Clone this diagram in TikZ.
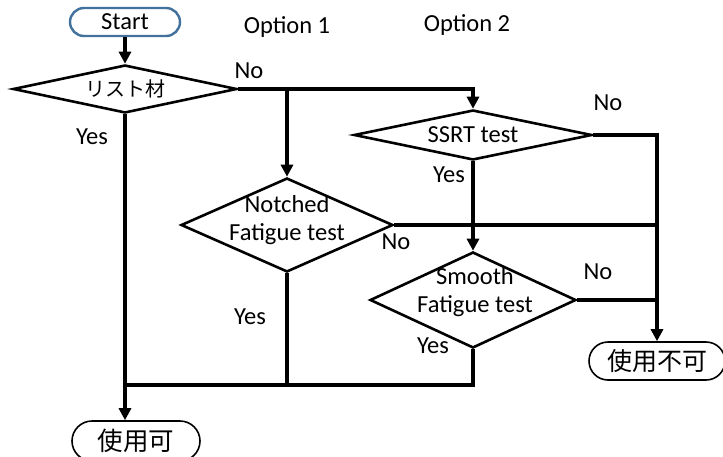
\documentclass[tikz,border=0pt]{standalone}
\usepackage{fontspec}
\setmainfont{Carlito}
\newfontfamily\jpfont{Noto Sans CJK JP}
\usetikzlibrary{arrows.meta,shapes.geometric}
\definecolor{startblue}{RGB}{65,113,156}
\tikzset{
  term/.style={draw=black,line width=1.6pt,rounded corners=19pt,minimum height=38pt,inner sep=0pt},
  decide/.style={diamond,draw=black,line width=2.6pt,inner sep=0pt},
  wire/.style={draw=black,line width=3.4pt},
  arr/.style={wire,-{Triangle[length=12pt,width=12pt]}},
  tag/.style={inner sep=0pt}
}

\begin{document}
\begin{tikzpicture}[x=1pt,y=-1pt,font=\fontsize{24.5}{28}\selectfont]
  \useasboundingbox (0,0) rectangle (723,456);
  % terminals
  \node[term,draw=startblue,line width=2.4pt,minimum width=110pt,minimum height=28pt,rounded corners=14pt] (start) at (125,22) {Start};
  \node[term,minimum width=128pt,minimum height=40pt,rounded corners=20pt,font=\jpfont\fontsize{25.5}{30}\selectfont] (ok) at (136,441) {使用可};
  \node[term,minimum width=136pt,font=\jpfont\fontsize{25}{30}\selectfont] (ng) at (657,361) {使用不可};
  % decisions
  \node[decide,minimum width=224pt,minimum height=48pt,label={[font=\jpfont\fontsize{20}{24}\selectfont]center:リスト材}] (rivet) at (125,89) {};
  \node[decide,minimum width=212pt,minimum height=94pt,label={[align=center,yshift=5pt]center:{Notched\\Fatigue test}}] (notch) at (287,225) {};
  \node[decide,minimum width=238pt,minimum height=50pt,label={center:SSRT test}] (ssrt) at (473,135) {};
  \node[decide,minimum width=206pt,minimum height=96pt,label={[align=center,yshift=8pt,xshift=2pt]center:{Smooth\\Fatigue test}}] (smooth) at (473,300) {};
  % headings and branch labels
  \node[tag] (opt1) at (287,27) {Option 1};
  \node[tag] (opt2) at (467,25) {Option 2};
  \node[tag] (no1) at (249,71) {No};
  \node[tag] (yes1) at (92,137) {Yes};
  \node[tag] (no2) at (608,103) {No};
  \node[tag] (yes2) at (449,175) {Yes};
  \node[tag] (no3) at (396,242) {No};
  \node[tag] (yes3) at (250,317) {Yes};
  \node[tag] (no4) at (598,272) {No};
  \node[tag] (yes4) at (433,346) {Yes};
  % junctions
  \coordinate (split) at (notch.north |- rivet.east);
  \coordinate (join) at (125,385);
  % connectors
  \draw[arr] (start) -- (rivet);
  \draw[arr] (rivet.east) -| (ssrt.north);
  \draw[arr] (split) -- (notch.north);
  \draw[wire] (rivet.south) -- (join);
  \draw[arr] (join) -- (join |- ok.north);
  \draw[wire] (notch.south) -- (notch.south |- join);
  \draw[wire] (smooth.south) |- (join);
  \draw[arr] (ssrt.east) -| (ng.north);
  \draw[wire] (notch.east) -- (notch.east -| ng.north);
  \draw[arr] (ssrt.south) -- (smooth.north);
  \draw[wire] (smooth.east) -- (smooth.east -| ng.north);
\end{tikzpicture}
\end{document}
